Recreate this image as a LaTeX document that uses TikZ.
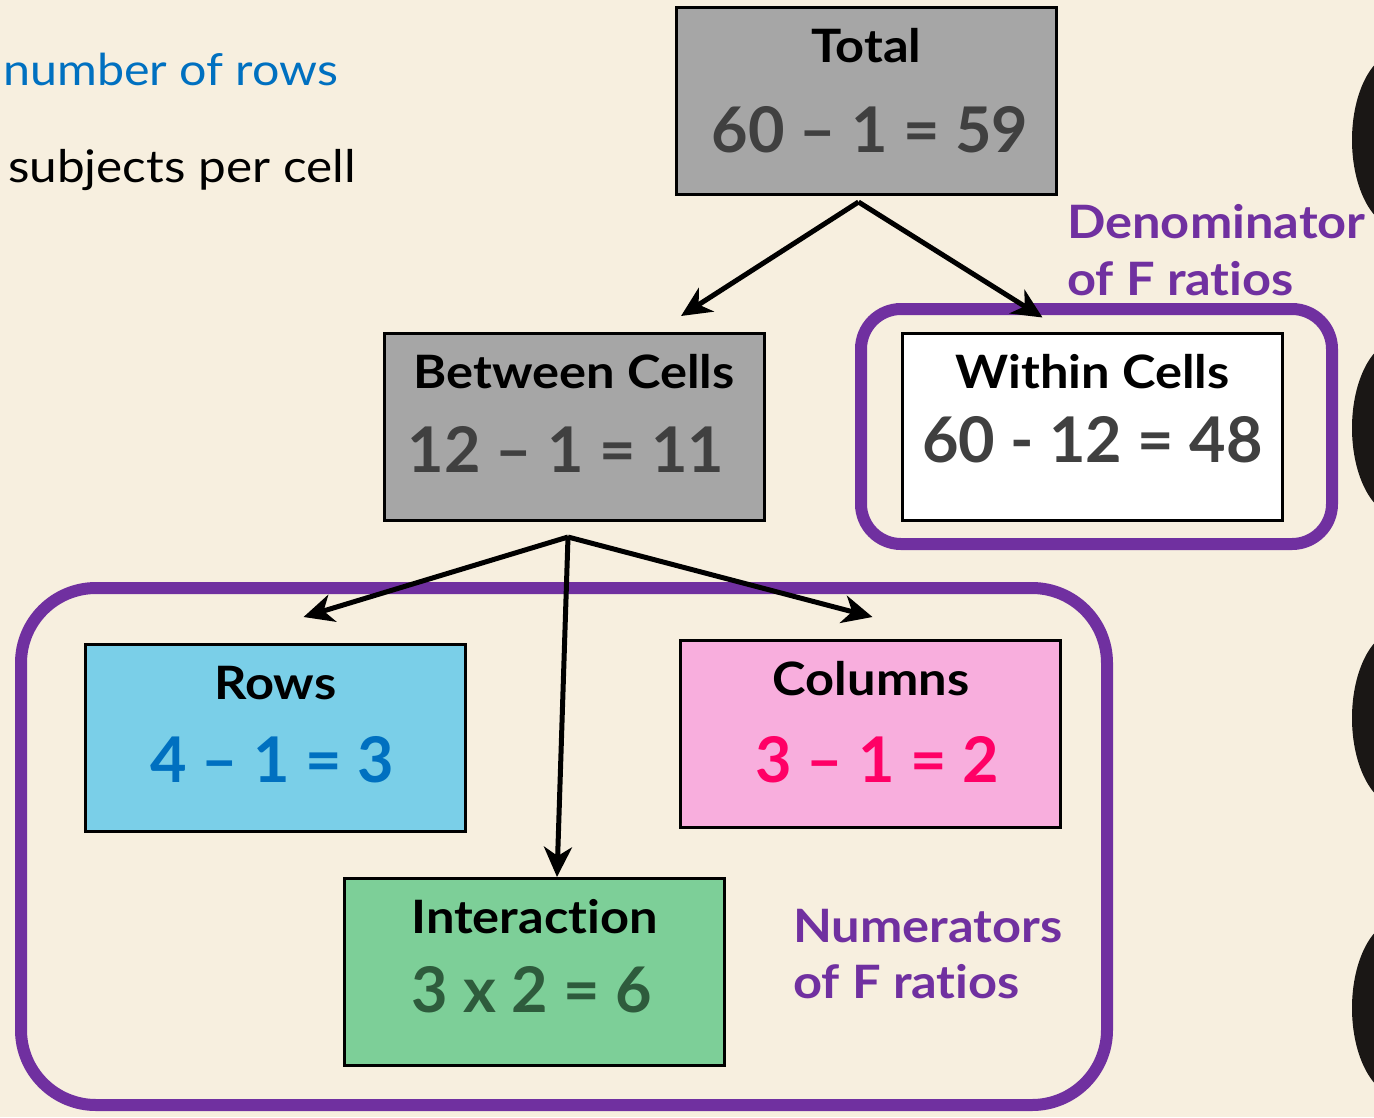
\documentclass[tikz,border=0pt]{standalone}
\usepackage{fontspec}
\setmainfont{Lato}
\newfontfamily\widefont{Lato}[FakeStretch=1.1, Ligatures=NoCommon]
\usetikzlibrary{arrows.meta}

\definecolor{bgcream}{HTML}{F7EFDF}
\definecolor{graybox}{HTML}{A6A6A6}
\definecolor{eqgray}{HTML}{404040}
\definecolor{rowfill}{HTML}{7ACFE8}
\definecolor{rowtext}{HTML}{0070C0}
\definecolor{colfill}{HTML}{F8AEDD}
\definecolor{coltext}{HTML}{FF0066}
\definecolor{intfill}{HTML}{7DCF98}
\definecolor{inttext}{HTML}{2E5B3C}
\definecolor{fpurple}{HTML}{7030A0}
\definecolor{blobblack}{HTML}{1A1715}

\newcommand{\ttlsize}{\fontsize{46}{50}\selectfont}
\newcommand{\eqsize}{\fontsize{63}{70}\selectfont}
\newcommand{\notesize}{\fontsize{46}{50}\selectfont}

\begin{document}
\begin{tikzpicture}[x=1pt, y=-1pt,
    box/.style={draw=black, line width=3pt, minimum width=380pt, minimum height=187pt, inner sep=0pt},
    ttl/.style={anchor=base, font=\widefont\ttlsize\bfseries, inner sep=0pt},
    eqn/.style={anchor=base, font=\eqsize\bfseries, inner sep=0pt},
    note/.style={anchor=base west, font=\widefont\notesize\bfseries, text=fpurple, inner sep=0pt},
    frame/.style={draw=fpurple, line width=12pt},
    link/.style={line width=5pt, -{Stealth[length=30pt, width=28pt, inset=9pt]}}]

    % background and page size
    \fill[bgcream] (0,0) rectangle (1374,1117);
    \useasboundingbox (0,0) rectangle (1374,1117);

    % dark shapes cut by the right edge
    \begin{scope}
        \clip (0,0) rectangle (1374,1117);
        \foreach \yy in {140,428,718,1008}
            \fill[blobblack] (1399,\yy) ellipse [x radius=47pt, y radius=88pt];
    \end{scope}

    % ---------------- top left text ----------------
    \node[anchor=base west, font=\widefont\fontsize{44}{48}\selectfont, text=rowtext, inner sep=0pt] (nrows) at (3,85) {number of rows};
    \node[anchor=base west, font=\widefont\fontsize{45}{50}\selectfont, inner sep=0pt] (nsubj) at (8,182) {subjects per cell};

    % ---------------- purple frames ----------------
    \draw[frame, rounded corners=40pt] (861,309) rectangle (1332,544);
    \draw[frame, rounded corners=75pt] (21,588) rectangle (1107,1105);

    % ---------------- boxes ----------------
    \node[box, fill=graybox] (total) at (866.5,101) {};
    \node[ttl] (totalttl) at (866.5,62) {Total};
    \node[eqn, text=eqgray] (totaleq) at (870,152) {60 – 1 = 59};

    \node[box, fill=graybox] (between) at (574,427) {};
    \node[ttl] (betweenttl) at (574,388) {Between Cells};
    \node[eqn, text=eqgray] (betweeneq) at (566,472) {12 – 1 = 11};

    \node[box, fill=white] (within) at (1092.5,426.5) {};
    \node[ttl] (withinttl) at (1092.5,388) {Within Cells};
    \node[eqn, text=eqgray] (withineq) at (1092.5,462) {60 - 12 = 48};

    \node[box, fill=rowfill] (rows) at (275.5,738) {};
    \node[ttl] (rowsttl) at (275.5,699) {Rows};
    \node[eqn, text=rowtext] (rowseq) at (272,782) {4 – 1 = 3};

    \node[box, fill=colfill] (cols) at (870.5,734) {};
    \node[ttl] (colsttl) at (871,695) {Columns};
    \node[eqn, text=coltext] (colseq) at (877,782) {3 – 1 = 2};

    \node[box, fill=intfill] (inter) at (534,972) {};
    \node[ttl] (interttl) at (534.5,933) {Interaction};
    \node[eqn, text=inttext] (intereq) at (532,1012) {3 x 2 = 6};

    % ---------------- notes ----------------
    \node[note] (denom1) at (1067,238) {Denominator};
    \node[note] (denom2) at (1067,295) {of F ratios};
    \node[note] (numer1) at (793,942) {Numerators};
    \node[note] (numer2) at (793,998) {of F ratios};

    % ---------------- arrows ----------------
    \coordinate (totfork) at ([shift={(-8,6)}]total.south);
    \coordinate (betin) at ([shift={(107,-16)}]between.north);
    \coordinate (within-in) at ([shift={(-50,-14)}]within.north);
    \coordinate (betfork) at ([shift={(-6,15)}]between.south);
    \coordinate (rowsin) at ([shift={(28,-26)}]rows.north);
    \coordinate (colsin) at ([shift={(2,-22)}]cols.north);
    \coordinate (interin) at ([shift={(23,0)}]inter.north);

    \draw[link] (totfork) -- (betin);
    \draw[link] (totfork) -- (within-in);
    \draw[link] (betfork) -- (rowsin);
    \draw[link] (betfork) -- (colsin);
    \draw[link] (betfork) -- (interin);
\end{tikzpicture}
\end{document}
